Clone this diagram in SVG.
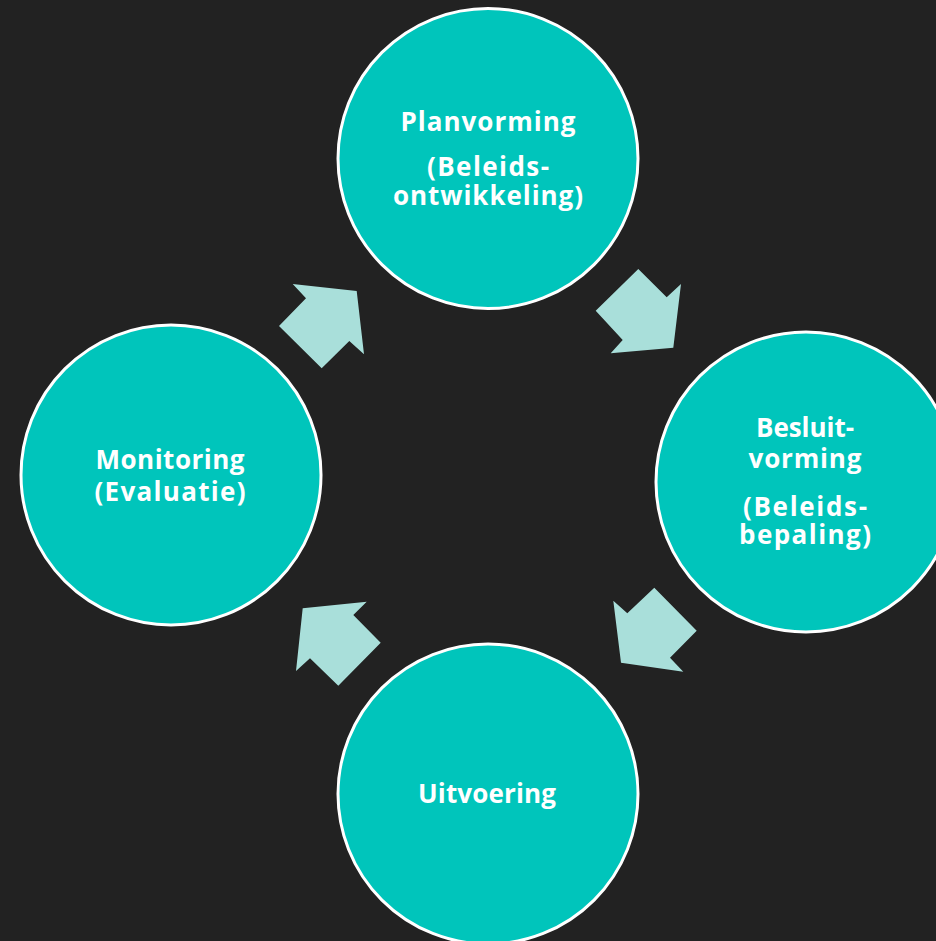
<svg xmlns="http://www.w3.org/2000/svg" width="936" height="941" viewBox="0 0 936 941">
<style>
.node circle{fill:#00C5BB;stroke:#FFFFFF;stroke-width:3}
.node text{fill:#FFFFFF;font-family:"Open Sans","Liberation Sans",sans-serif;font-weight:bold;font-size:26px;text-anchor:middle}
.arrow{fill:#A9DFDA}
</style>
<rect x="0" y="0" width="936" height="941" fill="#222222"/>
<g id="connectors">
<polygon class="arrow" points="292.7,284 356.7,291 364,354.3 349.3,341 321.7,368.3 279,326 306,298.3"/>
<polygon class="arrow" points="638.3,269 666.7,297.3 681,284 673.3,347.7 610.7,353.3 622.7,340 595.7,310.7"/>
<polygon class="arrow" points="654.3,587.7 696.7,630.7 670,657.7 683.3,671.7 621,662.7 613.3,600.7 627.3,613.3"/>
<polygon class="arrow" points="366.7,601.7 353.3,615 380.7,642.7 338.3,685.7 310,658.3 296,671 302.7,608.3"/>
</g>
<g id="planvorming" class="node">
<circle cx="488" cy="158.5" r="150"/>
<text x="488" y="130.5" textLength="175">Planvorming</text>
<text x="488" y="176" textLength="122">(Beleids-</text>
<text x="488" y="205" textLength="190">ontwikkeling)</text>
</g>
<g id="besluitvorming" class="node">
<circle cx="806" cy="482" r="150"/>
<text x="805" y="437" textLength="98">Besluit-</text>
<text x="805" y="468" textLength="113">vorming</text>
<text x="805" y="515.5" textLength="124">(Beleids-</text>
<text x="805" y="544" textLength="132">bepaling)</text>
</g>
<g id="uitvoering" class="node">
<circle cx="488" cy="794" r="150"/>
<text x="487" y="803" textLength="138">Uitvoering</text>
</g>
<g id="monitoring" class="node">
<circle cx="171" cy="475" r="150"/>
<text x="170" y="468.5" textLength="149">Monitoring</text>
<text x="170" y="500.5" textLength="151">(Evaluatie)</text>
</g>
</svg>
